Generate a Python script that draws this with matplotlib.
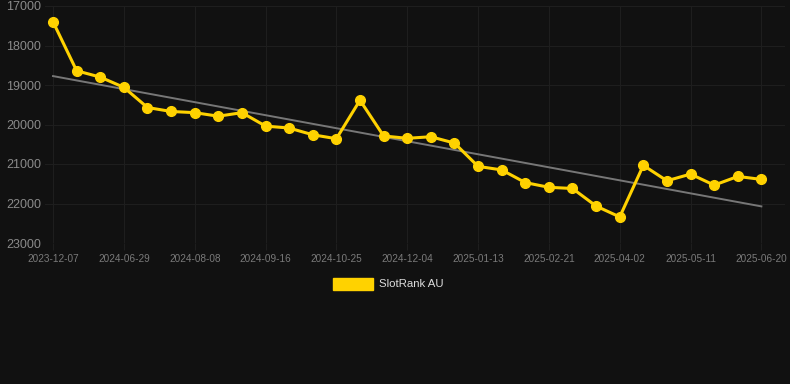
import numpy as np
import matplotlib
matplotlib.use("Agg")
import matplotlib.pyplot as plt

plt.rcParams['font.family'] = ['Liberation Sans', 'DejaVu Sans']

# rank values, one per snapshot
ranks = [17400, 18640, 18800, 19060, 19570, 19670, 19700, 19790, 19700, 20040,
         20090, 20260, 20360, 19385, 20290, 20350, 20310, 20470, 21060, 21150,
         21470, 21590, 21620, 22065, 22340, 21035, 21425, 21255, 21535, 21315,
         21390]
tick_labels = ["2023-12-07", "2024-06-29", "2024-08-08", "2024-09-16", "2024-10-25",
               "2024-12-04", "2025-01-13", "2025-02-21", "2025-04-02", "2025-05-11",
               "2025-06-20"]
y_ticks = [17000, 18000, 19000, 20000, 21000, 22000, 23000]
series_name = "SlotRank AU"

BG = "#111111"
GOLD = "#ffd200"

x = np.arange(len(ranks))
slope, inter = np.polyfit(x, ranks, 1)
trend = slope * x + inter

fig = plt.figure(figsize=(7.9, 3.84), dpi=100, facecolor=BG)
ax = fig.add_axes([45 / 790, 1 - 243 / 384, 740 / 790, 237 / 384], facecolor=BG)

ax.plot(x, trend, color="#777777", lw=1.4, zorder=2)
ax.plot(x, ranks, color=GOLD, lw=2.2, marker="o", ms=7, zorder=3)

ax.set_ylim(23000, 17000)
ax.set_xlim(-0.34, 31.0)
ax.set_yticks(y_ticks)
ax.set_yticklabels([str(v) for v in y_ticks])
ax.set_xticks(x[::3])
ax.set_xticklabels(tick_labels)

ax.grid(True, color="#1e1e1e", lw=0.8)
ax.set_axisbelow(True)
for s in ax.spines.values():
    s.set_visible(False)
ax.tick_params(axis="y", length=0, pad=3, labelsize=9, labelcolor="#8a8a8a")
ax.tick_params(axis="x", length=5, color="#1e1e1e", pad=3, labelsize=7.2, labelcolor="#7a7a7a")

fig.patches.append(plt.Rectangle((333 / 790, 1 - 290 / 384), 40 / 790, 12 / 384,
                                 transform=fig.transFigure, color=GOLD))
fig.text(379 / 790, 1 - 284 / 384, series_name, color="#dddddd", fontsize=8.2, va="center")

fig.savefig("out.png", dpi=100, facecolor=BG)
